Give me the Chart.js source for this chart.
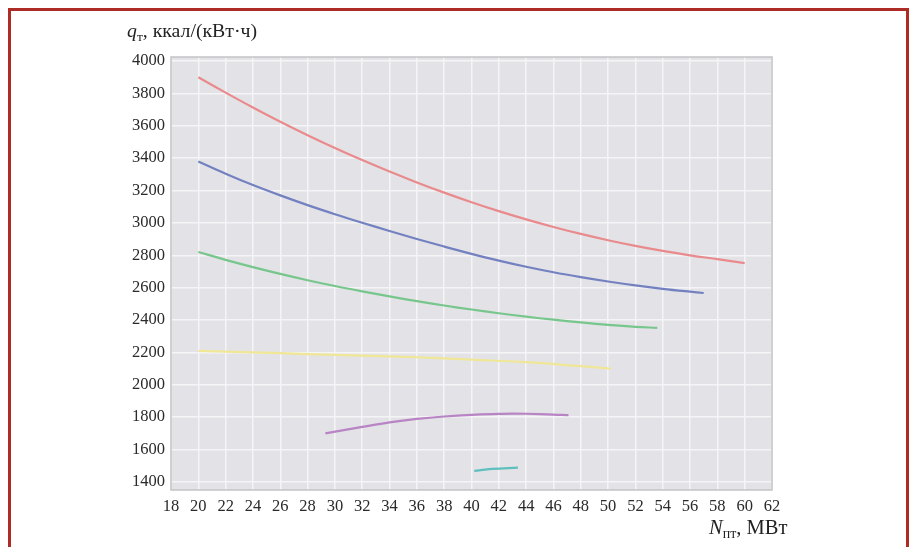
<!DOCTYPE html>
<html>
<head>
<meta charset="utf-8">
<script src="https://cdn.jsdelivr.net/npm/chart.js@4/dist/chart.umd.min.js"></script>
<style>
  html, body { margin: 0; padding: 0; background: #fff; width: 912px; height: 547px; overflow: hidden; }
  #frame { position: absolute; left: 8px; top: 8px; width: 895px; height: 620px; border: 3px solid #ad2c25; }
  #wrap { position: absolute; left: 0; top: 0; width: 912px; height: 547px; }
  .lbl { position: absolute; font-family: "Liberation Serif", "Times New Roman", serif; color: #222; white-space: nowrap; line-height: 1; }
  .lbl i { font-style: italic; }
  .lbl sub { font-size: 0.68em; vertical-align: -0.3em; line-height: 0; }
</style>
</head>
<body>
<div id="frame"></div>
<div id="wrap"><canvas id="c" width="912" height="547"></canvas></div>
<div class="lbl" style="left:127px; top:21px; font-size:19.8px;"><i>q</i><sub>т</sub>, ккал/(кВт·ч)</div>
<div class="lbl" style="left:709px; top:517px; font-size:20.5px;"><i>N</i><sub>пт</sub>, МВт</div>

<script>
// Turbine power N, MW, and specific heat consumption q, kcal/(kW·h), per curve
const redN    = [20, 22, 24, 26, 28, 30, 32, 34, 36, 38, 40, 42, 44, 46, 48, 50, 52, 54, 56, 58, 60];
const redQ    = [3900, 3805, 3713, 3625, 3542, 3463, 3388, 3317, 3250, 3187, 3128, 3073, 3022, 2975, 2932, 2893, 2858, 2827, 2800, 2776, 2752];

const blueN   = [20, 22, 24, 26, 28, 30, 32, 34, 36, 38, 40, 42, 44, 46, 48, 50, 52, 54, 56, 57];
const blueQ   = [3380, 3304, 3234, 3170, 3110, 3054, 3001, 2950, 2901, 2854, 2809, 2767, 2729, 2695, 2665, 2638, 2614, 2593, 2575, 2567];

const greenN  = [20, 22, 24, 26, 28, 30, 32, 34, 36, 38, 40, 42, 44, 46, 48, 50, 52, 53.6];
const greenQ  = [2820, 2772, 2727, 2685, 2646, 2610, 2577, 2546, 2517, 2490, 2465, 2442, 2421, 2402, 2385, 2370, 2358, 2352];

const yellowN = [20, 24, 28, 32, 36, 40, 44, 48, 50.2];
const yellowQ = [2210, 2200, 2190, 2180, 2170, 2155, 2140, 2115, 2100];

const purpleN = [29.3, 32, 34, 36, 38, 40, 42, 43, 44, 46, 47.1];
const purpleQ = [1700, 1740, 1768, 1789, 1804, 1814, 1820, 1822, 1821, 1816, 1812];

const cyanN   = [40.2, 41.5, 43.4];
const cyanQ   = [1468, 1480, 1488];

const xTicks  = [18, 20, 22, 24, 26, 28, 30, 32, 34, 36, 38, 40, 42, 44, 46, 48, 50, 52, 54, 56, 58, 60, 62];
const yTicks  = [1400, 1600, 1800, 2000, 2200, 2400, 2600, 2800, 3000, 3200, 3400, 3600, 3800, 4000];

const toPoints = (xs, ys) => xs.map((x, i) => ({ x: x, y: ys[i] }));

const series = [
  { data: toPoints(redN, redQ),       color: '#e98a8c' },
  { data: toPoints(blueN, blueQ),     color: '#7381c0' },
  { data: toPoints(greenN, greenQ),   color: '#77c68c' },
  { data: toPoints(yellowN, yellowQ), color: '#efe796' },
  { data: toPoints(purpleN, purpleQ), color: '#b884c4' },
  { data: toPoints(cyanN, cyanQ),     color: '#5fbfbf' }
];

// Grey plotting field behind the grid, framed after the grid is drawn
const plotField = {
  id: 'plotField',
  beforeDraw(chart) {
    const a = chart.chartArea, ctx = chart.ctx;
    ctx.save();
    ctx.fillStyle = '#e3e3e7';
    ctx.fillRect(a.left, a.top, a.right - a.left, a.bottom - a.top);
    ctx.restore();
  },
  beforeDatasetsDraw(chart) {
    const a = chart.chartArea, ctx = chart.ctx;
    ctx.save();
    ctx.strokeStyle = '#c3c3c7';
    ctx.lineWidth = 1.5;
    ctx.strokeRect(a.left, a.top, a.right - a.left, a.bottom - a.top);
    ctx.restore();
  }
};

const tickFont = { family: '"Liberation Serif", "Times New Roman", serif', size: 16.5 };

new Chart(document.getElementById('c'), {
  type: 'line',
  data: {
    datasets: series.map(s => ({
      data: s.data,
      borderColor: s.color,
      borderWidth: 2.2,
      pointRadius: 0,
      fill: false,
      tension: 0.4
    }))
  },
  options: {
    responsive: false,
    animation: false,
    devicePixelRatio: 1,
    layout: { padding: { left: 121, right: 140, top: 57, bottom: 27 } },
    plugins: { legend: { display: false }, tooltip: { enabled: false } },
    scales: {
      x: {
        type: 'linear',
        min: 18, max: 62,
        afterBuildTicks: s => { s.ticks = xTicks.map(v => ({ value: v })); },
        afterFit: s => { s.height = 30; },
        ticks: { font: tickFont, color: '#2a2a2a', padding: 7, maxRotation: 0, autoSkip: false, callback: v => String(v) },
        grid: { color: '#f5f5f7', lineWidth: 1.5, drawTicks: false },
        border: { display: false }
      },
      y: {
        type: 'linear',
        min: 1350, max: 4025,
        afterBuildTicks: s => { s.ticks = yTicks.map(v => ({ value: v })); },
        afterFit: s => { s.width = 50; },
        ticks: { font: tickFont, color: '#2a2a2a', padding: 6, autoSkip: false, callback: v => String(v) },
        grid: { color: '#f5f5f7', lineWidth: 1.5, drawTicks: false },
        border: { display: false }
      }
    }
  },
  plugins: [plotField]
});
</script>
</body>
</html>
